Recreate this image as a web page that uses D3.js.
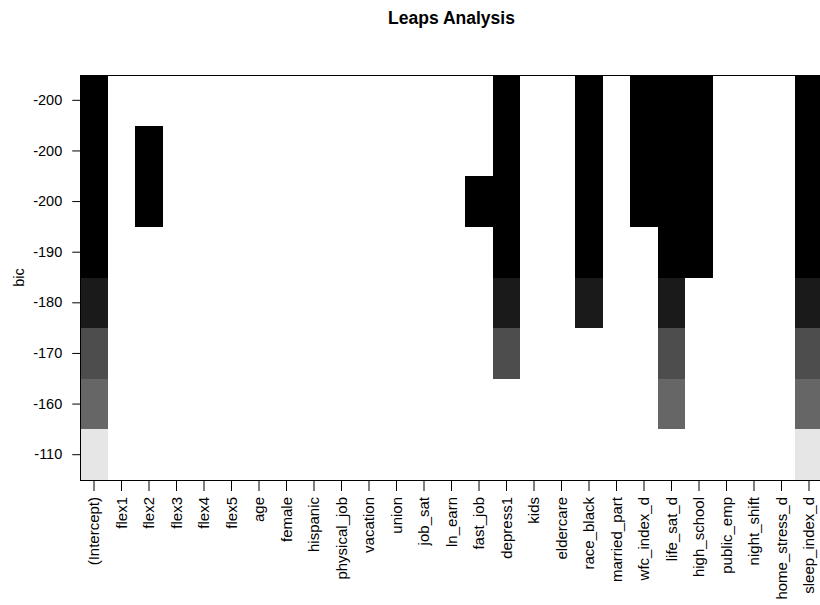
<!DOCTYPE html>
<html>
<head>
<meta charset="utf-8">
<script src="https://cdn.jsdelivr.net/npm/d3@7"></script>
<style>
  html, body { margin: 0; padding: 0; background: #fff; }
  svg { display: block; }
</style>
</head>
<body>
<svg id="chart" width="820" height="605"></svg>
<script>
// Candidate predictors (columns), in model-matrix order
const variables = [
  "(Intercept)", "flex1", "flex2", "flex3", "flex4", "flex5", "age", "female",
  "hispanic", "physical_job", "vacation", "union", "job_sat", "ln_earn",
  "fast_job", "depress1", "kids", "eldercare", "race_black", "married_part",
  "wfc_index_d", "life_sat_d", "high_school", "public_emp", "night_shift",
  "home_stress_d", "sleep_index_d"
];

// BIC labels for each model row, best model at the top
const bicLabels = ["-200", "-200", "-200", "-190", "-180", "-170", "-160", "-110"];

// Index into the grey palette used to shade each model row
const shadeIndex = [0, 0, 0, 0, 1, 3, 4, 9];

// Terms included in each model row
const modelTerms = [
  ["(Intercept)", "depress1", "race_black", "wfc_index_d", "life_sat_d", "high_school", "sleep_index_d"],
  ["(Intercept)", "flex2", "depress1", "race_black", "wfc_index_d", "life_sat_d", "high_school", "sleep_index_d"],
  ["(Intercept)", "flex2", "fast_job", "depress1", "race_black", "wfc_index_d", "life_sat_d", "high_school", "sleep_index_d"],
  ["(Intercept)", "depress1", "race_black", "life_sat_d", "high_school", "sleep_index_d"],
  ["(Intercept)", "depress1", "race_black", "life_sat_d", "sleep_index_d"],
  ["(Intercept)", "depress1", "life_sat_d", "sleep_index_d"],
  ["(Intercept)", "life_sat_d", "sleep_index_d"],
  ["(Intercept)", "sleep_index_d"]
];

// Grey ramp from black to light grey, ten steps
const palette = d3.range(10).map(i => d3.rgb(255 * 0.9 * i / 9, 255 * 0.9 * i / 9, 255 * 0.9 * i / 9).formatHex());

const svg = d3.select("#chart");
const font = "'Liberation Sans', Arial, Helvetica, sans-serif";

const plot = { left: 80.25, top: 75, right: 822.75, bottom: 480 };

const x = d3.scaleBand()
  .domain(variables)
  .range([plot.left, plot.right])
  .padding(0);

const y = d3.scaleBand()
  .domain(d3.range(bicLabels.length))
  .range([plot.top, plot.bottom])
  .padding(0);

const color = d3.scaleOrdinal()
  .domain(d3.range(10))
  .range(palette);

// Cells: one rectangle per (model, included term)
const cells = modelTerms.flatMap((terms, row) =>
  terms.map(term => ({ row, term }))
);

svg.append("g")
  .selectAll("rect")
  .data(cells)
  .join("rect")
  .attr("x", d => x(d.term))
  .attr("y", d => y(d.row))
  .attr("width", x.bandwidth())
  .attr("height", y.bandwidth())
  .attr("fill", d => color(shadeIndex[d.row]))
  .attr("shape-rendering", "crispEdges");

// Plot frame
svg.append("rect")
  .attr("x", plot.left)
  .attr("y", plot.top)
  .attr("width", plot.right - plot.left)
  .attr("height", plot.bottom - plot.top)
  .attr("fill", "none")
  .attr("stroke", "#000")
  .attr("stroke-width", 1)
  .attr("shape-rendering", "crispEdges");

// Y axis: BIC of each model
const yAxis = svg.append("g")
  .attr("transform", `translate(${plot.left},0)`)
  .call(d3.axisLeft(y)
    .tickSize(8)
    .tickPadding(10)
    .tickFormat(i => bicLabels[i]));
yAxis.select(".domain").remove();
yAxis.selectAll("line").attr("stroke", "#000");
yAxis.selectAll("text")
  .attr("fill", "#000")
  .style("font-family", font)
  .style("font-size", "14.5px");

// X axis: term names, rotated
const xAxis = svg.append("g")
  .attr("transform", `translate(0,${plot.bottom})`)
  .call(d3.axisBottom(x).tickSize(11).tickPadding(0));
xAxis.select(".domain").remove();
xAxis.selectAll("line").attr("stroke", "#000");
xAxis.selectAll("text")
  .attr("fill", "#000")
  .style("font-family", font)
  .style("font-size", "15px")
  .attr("transform", "rotate(-90)")
  .attr("x", -17)
  .attr("y", 0)
  .attr("dy", "0.35em")
  .attr("text-anchor", "end");

// Axis title
svg.append("text")
  .attr("transform", `translate(24,${(plot.top + plot.bottom) / 2}) rotate(-90)`)
  .attr("text-anchor", "middle")
  .style("font-family", font)
  .style("font-size", "14.5px")
  .attr("fill", "#000")
  .text("bic");

// Chart title
svg.append("text")
  .attr("x", (plot.left + plot.right) / 2)
  .attr("y", 24)
  .attr("text-anchor", "middle")
  .style("font-family", font)
  .style("font-size", "17.5px")
  .style("font-weight", "bold")
  .attr("fill", "#000")
  .text("Leaps Analysis");
</script>
</body>
</html>
